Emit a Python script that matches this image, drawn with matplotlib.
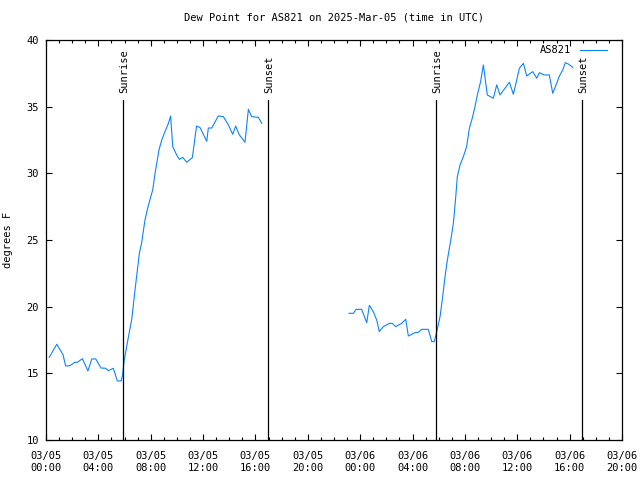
import numpy as np
import pandas as pd
import matplotlib
matplotlib.use("Agg")
import matplotlib.pyplot as plt
import matplotlib.dates as mdates

plt.rcParams['font.family'] = ['DejaVu Sans Mono']

# hours after 2025-03-05 00:00 UTC, dew point in F
hours_day1 = [0.25, 0.82, 1.12, 1.3, 1.5, 1.83, 2.2, 2.4, 2.78, 3.2, 3.5, 3.8,
              4.2, 4.55, 4.76, 5.14, 5.45, 5.75, 5.85, 5.96, 6.3, 6.55, 6.8,
              7.13, 7.3, 7.56, 7.82, 8.15, 8.33, 8.63, 8.84, 9.09, 9.35, 9.52,
              9.68, 9.98, 10.19, 10.44, 10.75, 11.18, 11.5, 11.77, 12.28, 12.4,
              12.66, 13.16, 13.55, 13.93, 14.26, 14.49, 14.74, 15.2, 15.46,
              15.71, 16.22, 16.48]
dewpt_day1 = [16.2, 17.18, 16.7, 16.4, 15.55, 15.57, 15.83, 15.83, 16.1, 15.18,
              16.08, 16.08, 15.4, 15.38, 15.2, 15.38, 14.43, 14.43, 14.88, 15.9,
              17.75, 19.05, 21.25, 24.0, 24.75, 26.5, 27.6, 28.75, 30.0, 31.75,
              32.5, 33.13, 33.75, 34.3, 32.0, 31.38, 31.05, 31.2, 30.83, 31.18,
              33.55, 33.43, 32.4, 33.4, 33.4, 34.3, 34.25, 33.63, 32.93, 33.55,
              32.93, 32.33, 34.8, 34.25, 34.2, 33.75]

hours_day2 = [23.15, 23.48, 23.68, 24.11, 24.5, 24.7, 25.0, 25.26, 25.46, 25.77,
              26.23, 26.46, 26.71, 27.17, 27.48, 27.68, 28.19, 28.44, 28.7, 29.2,
              29.47, 29.66, 29.85, 30.1, 30.3, 30.48, 30.66, 30.92, 31.12, 31.3,
              31.42, 31.63, 31.88, 32.13, 32.34, 32.56, 32.77, 32.95, 33.2, 33.41,
              33.71, 34.17, 34.43, 34.68, 35.06, 35.4, 35.7, 35.9, 36.16, 36.47,
              36.72, 37.18, 37.49, 37.69, 38.04, 38.45, 38.71, 39.01, 39.22,
              39.47, 39.67, 39.9, 40.24]
dewpt_day2 = [19.5, 19.5, 19.8, 19.8, 18.8, 20.1, 19.63, 19.0, 18.13, 18.5,
              18.75, 18.75, 18.5, 18.75, 19.05, 17.8, 18.05, 18.08, 18.3, 18.3,
              17.38, 17.38, 18.13, 19.25, 20.75, 22.25, 23.5, 25.0, 26.25, 28.25,
              29.75, 30.63, 31.25, 32.0, 33.38, 34.13, 35.0, 35.88, 36.88, 38.13,
              35.88, 35.63, 36.63, 35.88, 36.38, 36.83, 35.93, 36.75, 37.88,
              38.25, 37.3, 37.63, 37.13, 37.55, 37.38, 37.38, 36.0, 36.75, 37.3,
              37.75, 38.3, 38.2, 37.95]

sun_events = [("Sunrise", 5.90), ("Sunset", 16.98), ("Sunrise", 29.79), ("Sunset", 40.97)]

start = pd.Timestamp("2025-03-05 00:00")
def to_time(h):
    return start + pd.to_timedelta(np.asarray(h, dtype=float), unit="h")

t1 = to_time(hours_day1)
t2 = to_time(hours_day2)

fig = plt.figure(figsize=(6.4, 4.8), dpi=100)
ax = fig.add_axes([46 / 640, 40 / 480, 576 / 640, 400 / 480])

line_color = '#0a84ff'
ax.plot(t1, dewpt_day1, color=line_color, lw=0.8, label="AS821")
ax.plot(t2, dewpt_day2, color=line_color, lw=0.8)

for name, h in sun_events:
    t = to_time([h])[0]
    ax.plot([t, t], [10, 35.5], color='black', lw=0.9)
    ax.text(t + pd.Timedelta(minutes=5), 36.0, name, rotation=90, ha='center', va='bottom',
            fontsize=7.5)

ax.set_xlim(start, start + pd.Timedelta(hours=44))
ax.set_ylim(10, 40)
ax.set_yticks([10, 15, 20, 25, 30, 35, 40])
ax.xaxis.set_major_locator(mdates.HourLocator(byhour=range(0, 24, 4)))
ax.xaxis.set_minor_locator(mdates.HourLocator())
ax.xaxis.set_major_formatter(mdates.DateFormatter("%m/%d\n%H:%M"))

ax.tick_params(axis='both', which='both', direction='in', top=True, right=True,
               labelsize=7.5, width=0.8)
ax.tick_params(axis='x', which='major', pad=8)
ax.tick_params(axis='y', which='major', pad=5)
ax.tick_params(axis='both', which='major', length=4.5)
ax.tick_params(axis='both', which='minor', length=2.2)
for s in ax.spines.values():
    s.set_linewidth(0.9)

ax.set_title("Dew Point for AS821 on 2025-Mar-05 (time in UTC)", fontsize=7.5, pad=14)
ax.set_ylabel("degrees F", fontsize=7.5, labelpad=10)

leg = ax.legend(loc='upper right', frameon=False, fontsize=7.5, handlelength=2.6,
                markerfirst=False, borderaxespad=0.1, borderpad=0.4,
                handletextpad=0.8)
leg.set_bbox_to_anchor((1 - 10 / 576, 1.0), transform=ax.transAxes)

fig.savefig("out.png", dpi=100)
